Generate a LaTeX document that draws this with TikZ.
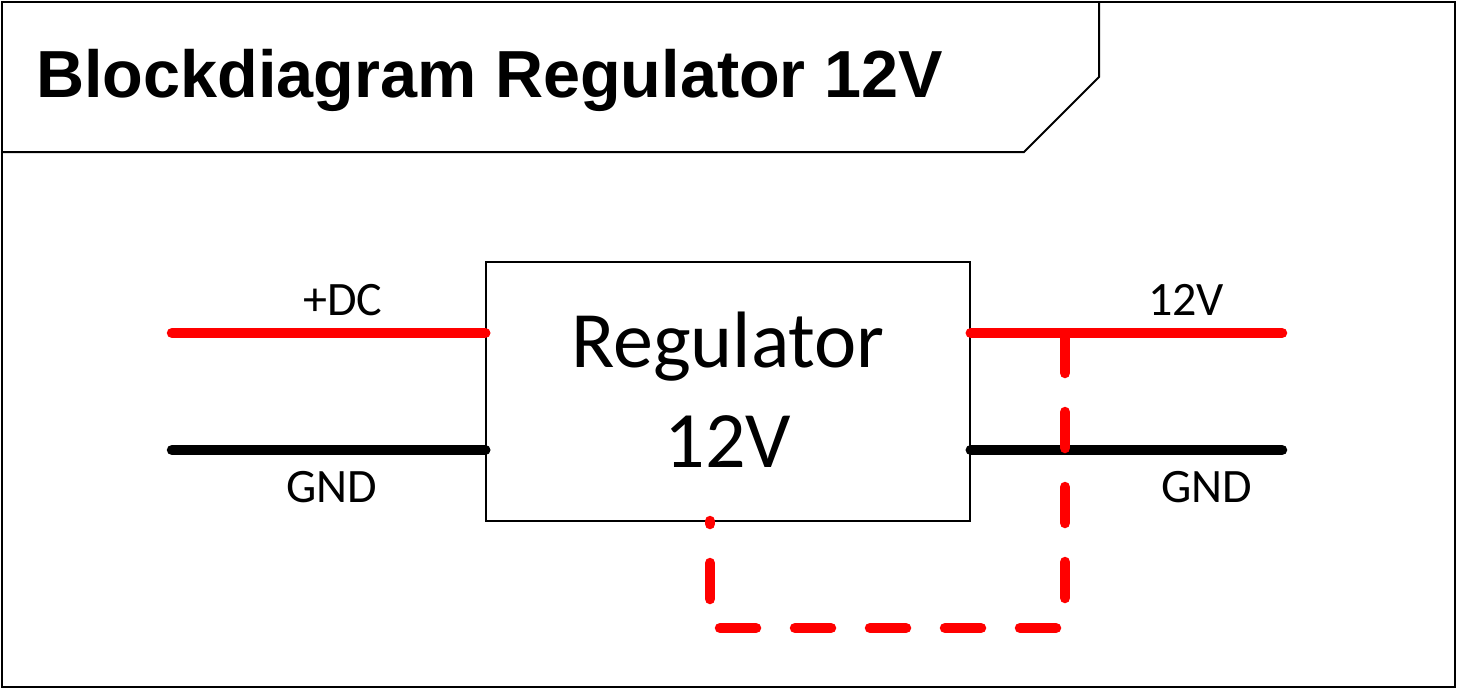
\documentclass[tikz,border=0pt]{standalone}
\usepackage{fontspec}
\setmainfont{Carlito}
\newfontfamily\titlefont{Liberation Sans}
\begin{document}
\begin{tikzpicture}[x=1pt,y=-1pt,
  frame/.style={draw=black,line width=2pt},
  wire/.style={line width=10.5pt,line cap=round},
  lbl/.style={font=\fontsize{48}{56}\selectfont,inner sep=0pt},
  dashwire/.style={draw=red,line width=10.5pt,line cap=round,dash pattern=on 36pt off 39pt}]
\useasboundingbox (0,0) rectangle (1457,689);
\draw[frame] (2,2) rectangle (1455,687);
\draw[frame] (2,152) -- (1024,152) -- (1099,77) -- (1099,2);
\node[anchor=base west,inner sep=0pt,font=\titlefont\bfseries\fontsize{66.6}{72}\selectfont] (title) at (36,97) {Blockdiagram Regulator 12V};
\node[draw=black,line width=1.5pt,minimum width=484pt,minimum height=259pt,inner sep=0pt] (reg) at (728,391.5) {};
\node[inner sep=0pt,align=center,font=\fontsize{80}{100}\selectfont] (regtxt) at (728,390) {Regulator\\12V};
\coordinate (inDC) at (172,333);
\coordinate (inGND) at (172,450);
\coordinate (outV) at (1282,333);
\coordinate (outGND) at (1282,450);
\coordinate (tap) at (1065,333);
\coordinate (c1) at (1065,628);
\coordinate (c2) at (710,628);
\coordinate (fb) at (710,521);
\draw[wire,red] (inDC) -- (inDC -| reg.west);
\draw[wire,black] (inGND) -- (inGND -| reg.west);
\draw[wire,red] (outV -| reg.east) -- (outV);
\draw[wire,black] (outGND -| reg.east) -- (outGND);
\draw[dashwire] (tap) ++(0,4) -- (c1) -- (c2) -- (fb);
\node[lbl,anchor=base] (ldc) at (343,315) {+DC};
\node[lbl,anchor=base] (lgnd1) at (331.5,502) {GND};
\node[lbl,anchor=base] (lv) at (1186,315) {12V};
\node[lbl,anchor=base] (lgnd2) at (1207,502) {GND};
\end{tikzpicture}
\end{document}
